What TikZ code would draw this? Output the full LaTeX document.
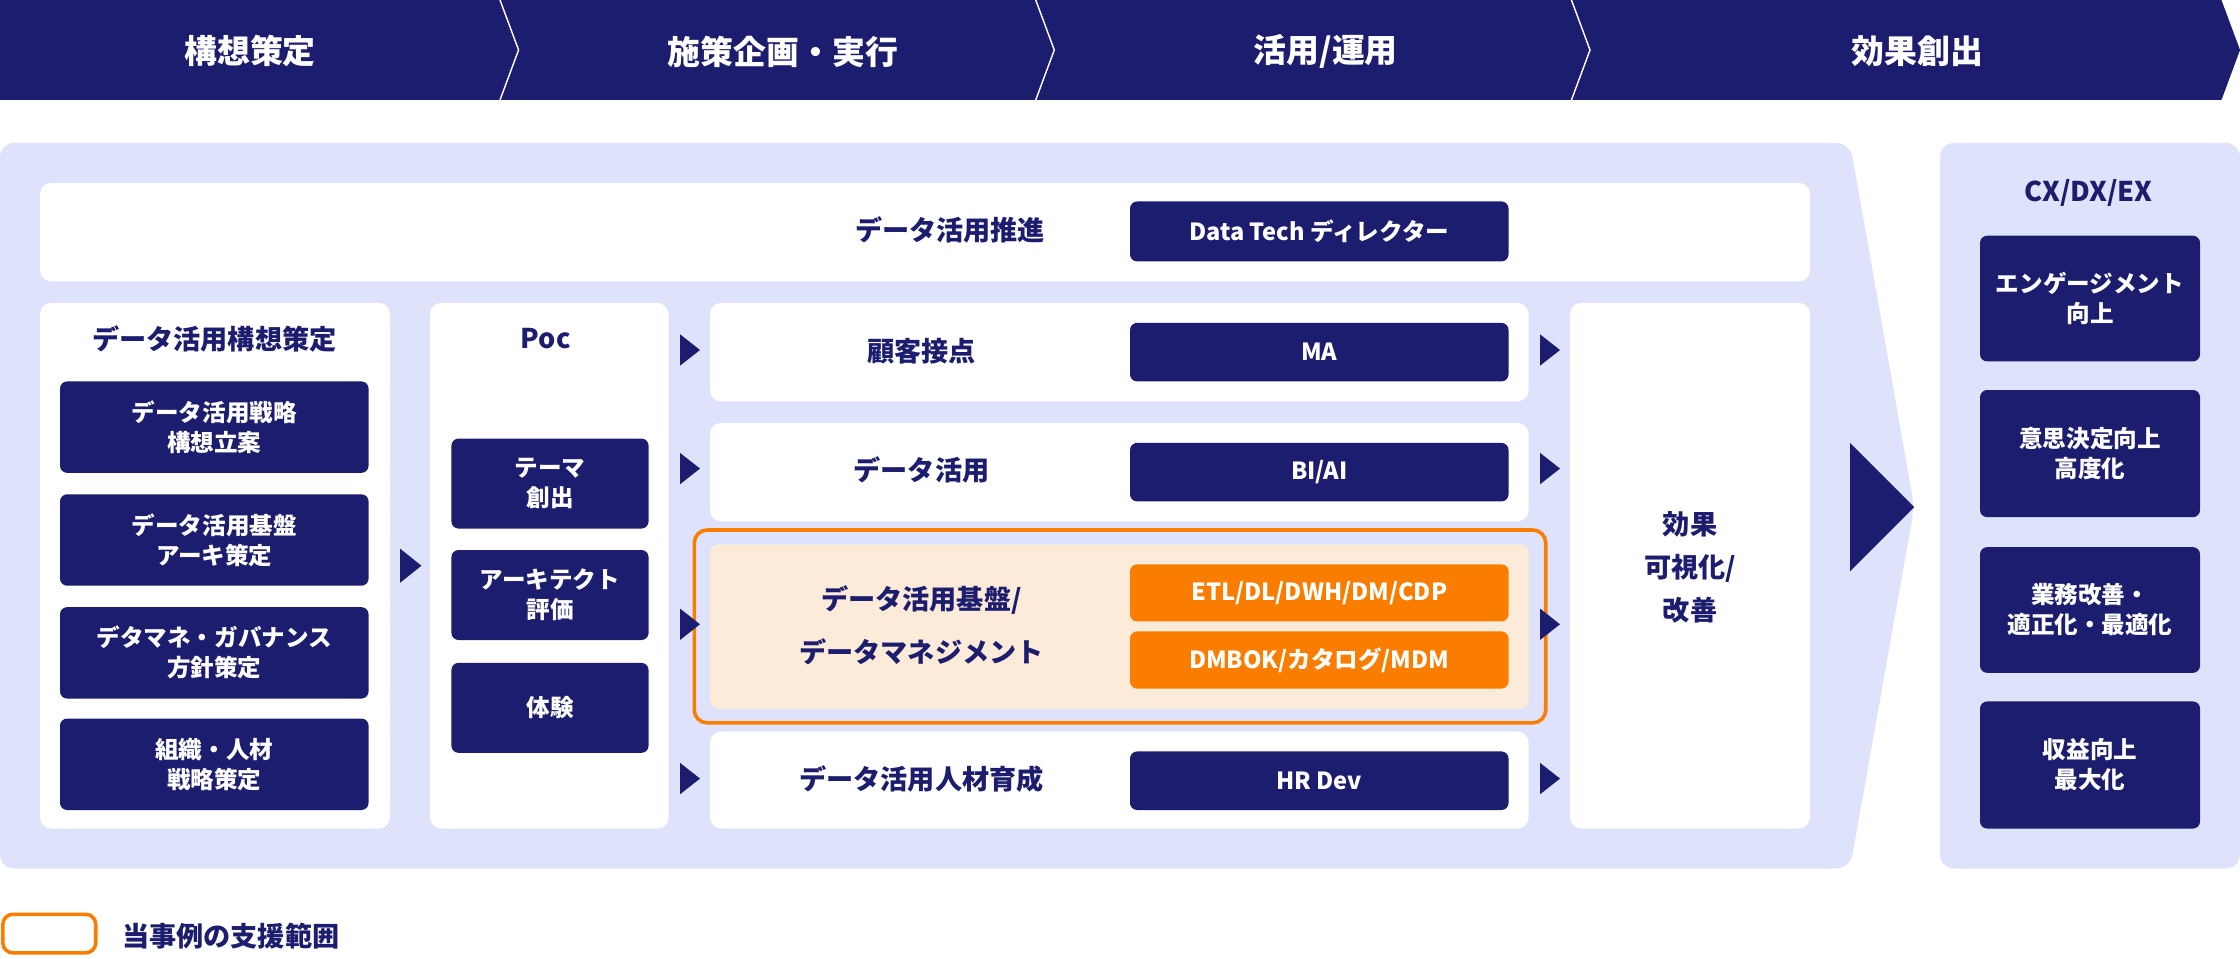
\documentclass[tikz,border=0pt]{standalone}
\usepackage{fontspec}
\setmainfont{Noto Sans CJK JP}
\definecolor{navy}{HTML}{1C1D6E}
\definecolor{pale}{HTML}{DEE3FB}
\definecolor{org}{HTML}{FA7D00}
\definecolor{peach}{HTML}{FDEBD9}
\begin{document}
\begin{tikzpicture}[x=1pt,y=-1pt,
  wbox/.style={fill=white,rounded corners=8pt},
  nbox/.style={fill=navy,rounded corners=5pt,text=white,font=\fontsize{16.5}{21}\selectfont\bfseries,align=center,inner sep=0pt},
  obox/.style={nbox,fill=org},
  lab/.style={text=navy,font=\fontsize{19}{25}\selectfont\bfseries,align=center},
  tri/.style={fill=navy},
  head/.style={text=white,font=\fontsize{23}{27}\selectfont\bfseries}]
\useasboundingbox (0,0) rectangle (1568,671);
% header
\fill[navy] (0,0) -- (1555,0) -- (1568,35) -- (1555,70) -- (0,70) -- cycle;
\foreach \x in {350,725,1100}{\draw[white,line width=1pt] (\x,0) -- (\x+13,35) -- (\x,70);}
\node[head] (h1) at (175,36) {構想策定};
\node[head] (h2) at (548,36) {施策企画・実行};
\node[head] (h3) at (928,36) {活用/運用};
\node[head] (h4) at (1342,36) {効果創出};
% big panel
\fill[pale,rounded corners=10pt] (1295,608) -- (0,608) -- (0,100) -- (1295,100) -- (1340,355) -- cycle;
\fill[navy] (1295,310) -- (1340,355) -- (1295,400) -- cycle;
\fill[pale,rounded corners=10pt] (1358,100) rectangle (1568,608);
\node[lab] (cx) at (1462,135) {CX/DX/EX};
\foreach \t/\a/\b [count=\i] in {{エンゲージメント\\向上}/165/253,{意思決定向上\\高度化}/273/362,{業務改善・\\適正化・最適化}/383/471,{収益向上\\最大化}/491/580}
  {\node[nbox,minimum width=154pt,minimum height=\b-\a] (r\i) at (1463,{(\a+\b)/2}) {\t};}
% top bar
\fill[wbox] (28,128) rectangle (1267,197);
\node[lab] (suishin) at (665,161) {データ活用推進};
\node[nbox,minimum width=265pt,minimum height=42pt] (dt) at (923.5,162) {Data Tech ディレクター};
% left column
\fill[wbox] (28,212) rectangle (273,580);
\node[lab] (lt) at (150,237) {データ活用構想策定};
\foreach \t/\a [count=\i] in {{データ活用戦略\\構想立案}/267,{データ活用基盤\\アーキ策定}/346,{デタマネ・ガバナンス\\方針策定}/425,{組織・人材\\戦略策定}/503}
  {\node[nbox,minimum width=216pt,minimum height=64pt] (l\i) at (150,\a+32) {\t};}
\fill[tri] (280,384) -- (295,396) -- (280,408) -- cycle;
% poc
\fill[wbox] (301,212) rectangle (468,580);
\node[lab] (poc) at (382,237) {Poc};
\foreach \t/\a [count=\i] in {{テーマ\\創出}/307,{アーキテクト\\評価}/385,{体験}/464}
  {\node[nbox,minimum width=138pt,minimum height=63pt] (p\i) at (385,\a+31.5) {\t};}
% rows
\fill[wbox] (497,212) rectangle (1070,281);
\fill[wbox] (497,296) rectangle (1070,365);
\fill[wbox] (497,512) rectangle (1070,580);
\draw[org,line width=2.5pt,rounded corners=9pt] (486,371) rectangle (1082,506);
\fill[peach,rounded corners=6pt] (497,381) rectangle (1070,496);
\node[lab] (k1) at (645,246) {顧客接点};
\node[lab] (k2) at (645,329) {データ活用};
\node[lab,font=\fontsize{19}{37}\selectfont\bfseries] (k3) at (645,438) {データ活用基盤/\\データマネジメント};
\node[lab] (k4) at (645,545) {データ活用人材育成};
\node[nbox,minimum width=265pt,minimum height=41pt] (m1) at (923.5,246.5) {MA};
\node[nbox,minimum width=265pt,minimum height=41pt] (m2) at (923.5,330.5) {BI/AI};
\node[obox,minimum width=265pt,minimum height=40pt] (m3) at (923.5,415) {ETL/DL/DWH/DM/CDP};
\node[obox,minimum width=265pt,minimum height=40pt] (m4) at (923.5,462) {DMBOK/カタログ/MDM};
\node[nbox,minimum width=265pt,minimum height=41pt] (m5) at (923.5,546.5) {HR Dev};
\foreach \y in {245,328,437,545}{
  \fill[tri] (476,\y-11) -- (490,\y) -- (476,\y+11) -- cycle;
  \fill[tri] (1078,\y-11) -- (1092,\y) -- (1078,\y+11) -- cycle;}
% effect
\fill[wbox] (1099,212) rectangle (1267,580);
\node[lab,font=\fontsize{19}{30}\selectfont\bfseries] (eff) at (1183,397) {効果\\可視化/\\改善};
% legend
\draw[org,line width=2.5pt,rounded corners=7pt] (2,640) rectangle (67,667);
\node[lab,anchor=west] (leg) at (82,655) {当事例の支援範囲};
\end{tikzpicture}
\end{document}
